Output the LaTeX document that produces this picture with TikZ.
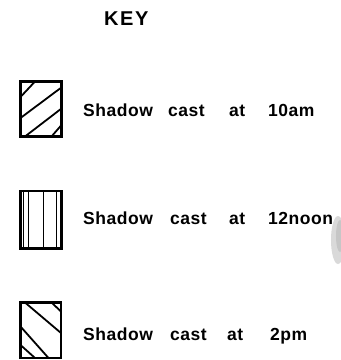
\documentclass[tikz,border=0pt]{standalone}
\usepackage{fontspec}
\setmainfont{Liberation Sans}
\newfontfamily\keyfont[LetterSpace=8]{Liberation Sans}
\newfontfamily\lblfont[LetterSpace=3]{Liberation Sans}
\begin{document}
\begin{tikzpicture}[x=1pt,y=-1pt,
  keybox/.style={line width=2.4pt,line join=miter},
  hatch/.style={line width=1.8pt},
  word/.style={anchor=base west,inner sep=0pt,font=\lblfont\bfseries\fontsize{17.5}{20}\selectfont},
  title/.style={anchor=base west,inner sep=0pt,font=\keyfont\bfseries\fontsize{20}{24}\selectfont}]
\useasboundingbox (0,0) rectangle (341,360);
% smudge on the right
\fill[gray!30] (338,240) ellipse (7 and 24);
\fill[gray!45] (340,236) ellipse (4 and 16);
% title
\node[title] (key) at (104,25) {KEY};
% box 1: shadow at 10am
\begin{scope}
\clip (20.5,81.5) rectangle (61.5,136.5);
\draw[hatch] (20.5,97) -- (35,81.5);
\draw[hatch] (20.5,118) -- (58,90) -- (61.5,87.5);
\draw[hatch] (25,136.5) -- (61.5,108.5);
\draw[hatch] (51.5,136.5) -- (61.5,125);
\end{scope}
\draw[keybox] (20.5,81.5) rectangle (61.5,136.5);
% box 2: shadow at 12noon
\draw[hatch] (23.5,191) -- (23.5,248.5);
\draw[hatch] (28.5,191) -- (28.5,248.5);
\draw[hatch] (43.5,191) -- (43.5,248.5);
\draw[hatch] (56.5,191) -- (56.5,248.5);
\draw[keybox] (20.5,191) rectangle (61.5,248.5);
% box 3: shadow at 2pm
\begin{scope}
\clip (20.5,302.5) rectangle (61,358);
\draw[hatch] (25,302.5) -- (61,333);
\draw[hatch] (20.5,326.5) -- (48.5,358);
\draw[hatch] (20.5,345) -- (35,358);
\draw[hatch] (51.5,302.5) -- (61,311.5);
\end{scope}
\draw[keybox] (20.5,302.5) rectangle (61,358);
% labels
\node[word] (s1) at (83,116) {Shadow};
\node[word] (c1) at (168,116) {cast};
\node[word] (a1) at (229,116) {at};
\node[word] (t1) at (268,116) {10am};
\node[word] (s2) at (83,224) {Shadow};
\node[word] (c2) at (170,224) {cast};
\node[word] (a2) at (229,224) {at};
\node[word] (t2) at (268,224) {12noon};
\node[word] (s3) at (83,340) {Shadow};
\node[word] (c3) at (170,340) {cast};
\node[word] (a3) at (227,340) {at};
\node[word] (t3) at (270,340) {2pm};
\end{tikzpicture}
\end{document}
